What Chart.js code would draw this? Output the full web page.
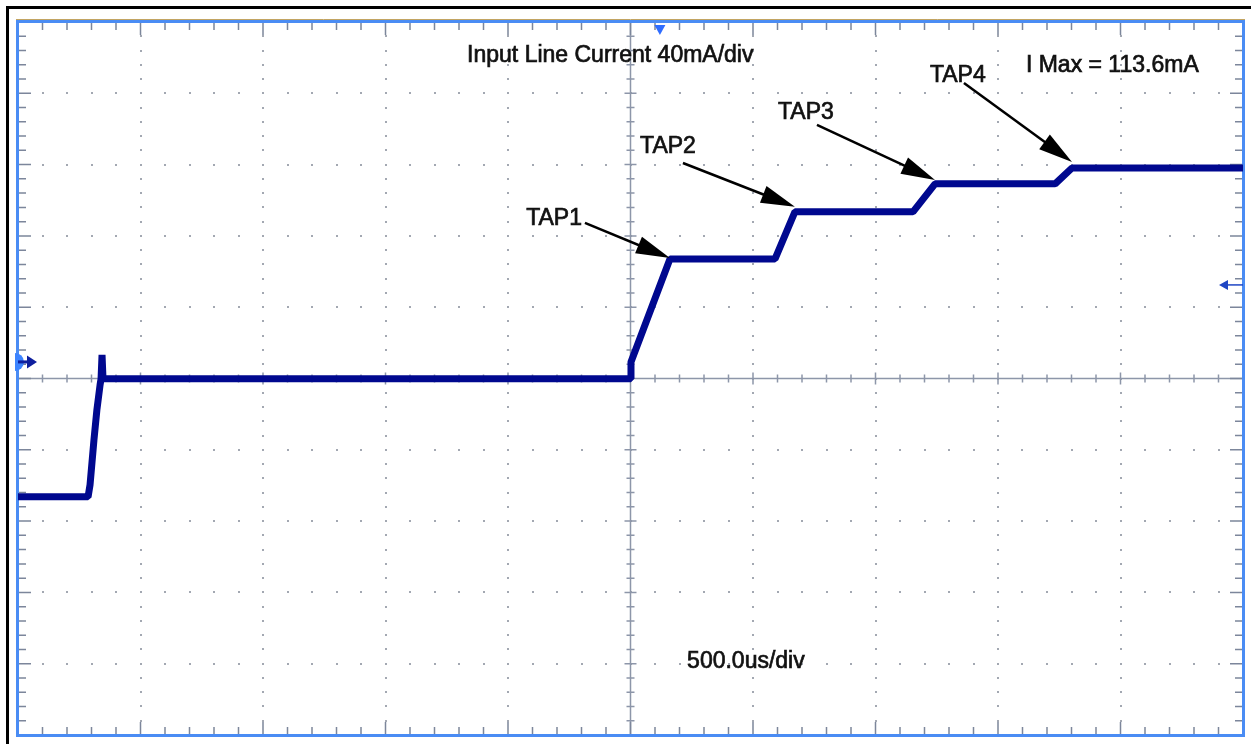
<!DOCTYPE html>
<html>
<head>
<meta charset="utf-8">
<title>Input Line Current</title>
<script src="https://cdn.jsdelivr.net/npm/chart.js@4.4.1/dist/chart.umd.min.js"></script>
<style>
  html, body { margin: 0; padding: 0; background: #ffffff; overflow: hidden; }
  .chart-box { position: relative; width: 1251px; height: 744px; }
</style>
</head>
<body>
<div class="chart-box"><canvas id="scope"></canvas></div>
<script>
"use strict";

//-------------- data read off the scope shot ---------------------------------
// time in us (500us/div, 10 div), current in mA (40mA/div), 0mA = ground marker
const timeUs = [0, 286, 294, 310, 322, 335, 339, 343, 347, 2498, 2502, 2661, 3090, 3171, 3653, 3743, 4233, 4302, 5000];
const currentMa = [-75.7, -75.7, -69, -43.8, -26.9, -12.9, -9.5, 3.9, -9.5, -9.5, 0, 57.8, 57.8, 84.2, 84.2, 99.9, 99.9, 108.8, 108.8];

// screen setup
const US_PER_DIV = 500;
const MA_PER_DIV = 40;
const DIVS = 10;
const CENTER_MA = -9.3;   // current at the centre line
const Y_MIN = CENTER_MA - 5 * MA_PER_DIV;
const Y_MAX = CENTER_MA + 5 * MA_PER_DIV;

// labels
const tapLabels = ["TAP1", "TAP2", "TAP3", "TAP4"];
const tapLabelUs = [2074, 2539, 3102, 3722];
const tapLabelMa = [81.3, 121.7, 140.8, 161.6];
const tapFromUs = [2314, 2714, 3261, 3861];
const tapFromMa = [78.0, 111.6, 133.0, 156.5];
const tapToUs = [2661, 3171, 3743, 4302];
const tapToMa = [58.3, 87.0, 102.1, 112.2];

const infoTexts = ["Input Line Current 40mA/div", "I Max = 113.6mA", "500.0us/div"];
const infoUs = [1833, 4114, 2731];
const infoMa = [172.8, 167.5, -167.2];

const groundMa = 0;
const levelMarkerMa = 43.2;
const triggerUs = 2620;

//----------------------------- plugins ---------------------------------------
// outer black frame of the screenshot
const outerFrame = {
  id: "outerFrame",
  beforeDraw(chart) {
    let ctx = chart.ctx;
    ctx.save();
    ctx.fillStyle = "#ffffff";
    ctx.fillRect(0, 0, chart.width, chart.height);
    ctx.fillStyle = "#000000";
    ctx.fillRect(6, 6, 3, chart.height);
    ctx.fillRect(6, 6, chart.width, 3);
    ctx.restore();
  }
};

// scope graticule: dots, centre cross, edge ticks, blue frame
const graticule = {
  id: "graticule",
  beforeDatasetsDraw(chart) {
    let ctx = chart.ctx;
    let x = chart.scales.x;
    let y = chart.scales.y;
    let a = chart.chartArea;
    let minorX = [];
    let minorY = [];
    for (let i = 0; i <= DIVS * 5; i++) {
      minorX.push(x.getPixelForValue(i * US_PER_DIV / 5));
      minorY.push(y.getPixelForValue(Y_MIN + i * MA_PER_DIV / 5));
    }
    ctx.save();

    // dotted division lines
    ctx.fillStyle = "#a3a8b2";
    for (let d = 1; d < DIVS; d++) {
      if (d === 5) continue;
      let px = Math.round(x.getPixelForValue(d * US_PER_DIV));
      let py = Math.round(y.getPixelForValue(Y_MIN + d * MA_PER_DIV));
      for (let k = 1; k < minorY.length - 1; k++) {
        ctx.fillRect(px - 1, Math.round(minorY[k]) - 1, 2, 2);
      }
      for (let k = 1; k < minorX.length - 1; k++) {
        ctx.fillRect(Math.round(minorX[k]) - 1, py - 1, 2, 2);
      }
    }

    // centre cross
    let cx = x.getPixelForValue(5 * US_PER_DIV);
    let cy = y.getPixelForValue(CENTER_MA);
    ctx.strokeStyle = "#8d96a9";
    ctx.lineWidth = 1.5;
    ctx.beginPath();
    ctx.moveTo(cx, a.top);
    ctx.lineTo(cx, a.bottom);
    ctx.moveTo(a.left, cy);
    ctx.lineTo(a.right, cy);
    for (let k = 1; k < minorY.length - 1; k++) {
      let len = k % 5 === 0 ? 6 : 4;
      ctx.moveTo(cx - len, minorY[k]);
      ctx.lineTo(cx + len, minorY[k]);
    }
    for (let k = 1; k < minorX.length - 1; k++) {
      let len = k % 5 === 0 ? 6 : 4;
      ctx.moveTo(minorX[k], cy - len);
      ctx.lineTo(minorX[k], cy + len);
    }
    ctx.stroke();

    // edge ticks
    ctx.strokeStyle = "#7c869b";
    ctx.lineWidth = 1.5;
    ctx.beginPath();
    for (let k = 1; k < minorX.length - 1; k++) {
      let len = k % 5 === 0 ? 13 : 8;
      ctx.moveTo(minorX[k], a.top);
      ctx.lineTo(minorX[k], a.top + len);
      ctx.moveTo(minorX[k], a.bottom);
      ctx.lineTo(minorX[k], a.bottom - len);
    }
    for (let k = 1; k < minorY.length - 1; k++) {
      let len = k % 5 === 0 ? 13 : 8;
      ctx.moveTo(a.left, minorY[k]);
      ctx.lineTo(a.left + len, minorY[k]);
      ctx.moveTo(a.right, minorY[k]);
      ctx.lineTo(a.right - len, minorY[k]);
    }
    ctx.stroke();

    // frame
    ctx.strokeStyle = "#c2a462";
    ctx.lineWidth = 1;
    ctx.beginPath();
    ctx.moveTo(a.left - 2, a.top - 2.5);
    ctx.lineTo(a.right + 2, a.top - 2.5);
    ctx.stroke();
    ctx.strokeStyle = "#4a8cf4";
    ctx.lineWidth = 3;
    ctx.strokeRect(a.left - 0.5, a.top - 0.5, a.right - a.left + 1, a.bottom - a.top + 1);
    ctx.restore();
  }
};

function arrowHead(ctx, x0, y0, x1, y1, len, wid) {
  let ang = Math.atan2(y1 - y0, x1 - x0);
  ctx.beginPath();
  ctx.moveTo(x1, y1);
  ctx.lineTo(x1 - len * Math.cos(ang) + wid * Math.sin(ang), y1 - len * Math.sin(ang) - wid * Math.cos(ang));
  ctx.lineTo(x1 - len * Math.cos(ang) - wid * Math.sin(ang), y1 - len * Math.sin(ang) + wid * Math.cos(ang));
  ctx.closePath();
  ctx.fill();
}

// slightly heavy text, the scope font is blurred
function heavyText(ctx, text, px, py) {
  ctx.fillText(text, px, py);
  ctx.strokeText(text, px, py);
}

// texts, TAP arrows and channel markers
const annotations = {
  id: "annotations",
  afterDatasetsDraw(chart) {
    let ctx = chart.ctx;
    let x = chart.scales.x;
    let y = chart.scales.y;
    let a = chart.chartArea;
    ctx.save();
    ctx.font = "23px 'Liberation Sans', Arial, sans-serif";
    ctx.textBaseline = "alphabetic";
    ctx.fillStyle = "#111111";
    ctx.strokeStyle = "#111111";
    ctx.lineWidth = 0.7;

    for (let i = 0; i < infoTexts.length; i++) {
      heavyText(ctx, infoTexts[i], x.getPixelForValue(infoUs[i]), y.getPixelForValue(infoMa[i]) + 8.2);
    }

    for (let i = 0; i < tapLabels.length; i++) {
      ctx.fillStyle = "#111111";
      ctx.strokeStyle = "#111111";
      ctx.lineWidth = 0.7;
      heavyText(ctx, tapLabels[i], x.getPixelForValue(tapLabelUs[i]), y.getPixelForValue(tapLabelMa[i]) + 8.2);
      let x0 = x.getPixelForValue(tapFromUs[i]);
      let y0 = y.getPixelForValue(tapFromMa[i]);
      let x1 = x.getPixelForValue(tapToUs[i]);
      let y1 = y.getPixelForValue(tapToMa[i]);
      ctx.strokeStyle = "#000000";
      ctx.lineWidth = 2.5;
      ctx.beginPath();
      ctx.moveTo(x0, y0);
      ctx.lineTo(x1 - (x1 - x0) * 0.15, y1 - (y1 - y0) * 0.15);
      ctx.stroke();
      ctx.fillStyle = "#000000";
      arrowHead(ctx, x0, y0, x1, y1, 34, 9);
    }

    // ground marker (left)
    let gy = y.getPixelForValue(groundMa);
    ctx.fillStyle = "#3d84ff";
    ctx.beginPath();
    ctx.arc(a.left - 3, gy, 9, -Math.PI / 2, Math.PI / 2);
    ctx.fill();
    ctx.strokeStyle = "#0e1f9e";
    ctx.lineWidth = 3;
    ctx.beginPath();
    ctx.moveTo(a.left, gy);
    ctx.lineTo(a.left + 12, gy);
    ctx.stroke();
    ctx.fillStyle = "#0e1f9e";
    arrowHead(ctx, a.left, gy, a.left + 19, gy, 10, 6.5);

    // level marker (right)
    let ly = y.getPixelForValue(levelMarkerMa);
    ctx.strokeStyle = "#1f46c4";
    ctx.lineWidth = 1.5;
    ctx.beginPath();
    ctx.moveTo(a.right, ly);
    ctx.lineTo(a.right - 18, ly);
    ctx.stroke();
    ctx.fillStyle = "#1f46c4";
    arrowHead(ctx, a.right, ly, a.right - 24, ly, 9, 5);

    // trigger marker (top)
    let tx = x.getPixelForValue(triggerUs);
    ctx.fillStyle = "#2f6dff";
    ctx.beginPath();
    ctx.moveTo(tx - 5.5, a.top + 3);
    ctx.lineTo(tx + 5.5, a.top + 3);
    ctx.lineTo(tx, a.top + 13);
    ctx.closePath();
    ctx.fill();
    ctx.restore();
  }
};

//----------------------------- chart -----------------------------------------
let points = [];
for (let i = 0; i < timeUs.length; i++) {
  points.push({ x: timeUs[i], y: currentMa[i] });
}

let scopeChart = new Chart(document.getElementById("scope"), {
  type: "line",
  data: {
    datasets: [{
      label: "Input Line Current",
      data: points,
      borderColor: "#00088f",
      borderWidth: 7,
      borderJoinStyle: "bevel",
      pointRadius: 0,
      tension: 0,
      fill: false
    }]
  },
  options: {
    responsive: true,
    maintainAspectRatio: false,
    animation: false,
    layout: { padding: { left: 18, top: 22, right: 8, bottom: 9 } },
    plugins: { legend: { display: false }, tooltip: { enabled: false } },
    scales: {
      x: { type: "linear", min: 0, max: DIVS * US_PER_DIV, display: false },
      y: { type: "linear", min: Y_MIN, max: Y_MAX, display: false }
    }
  },
  plugins: [outerFrame, graticule, annotations]
});
</script>
</body>
</html>
